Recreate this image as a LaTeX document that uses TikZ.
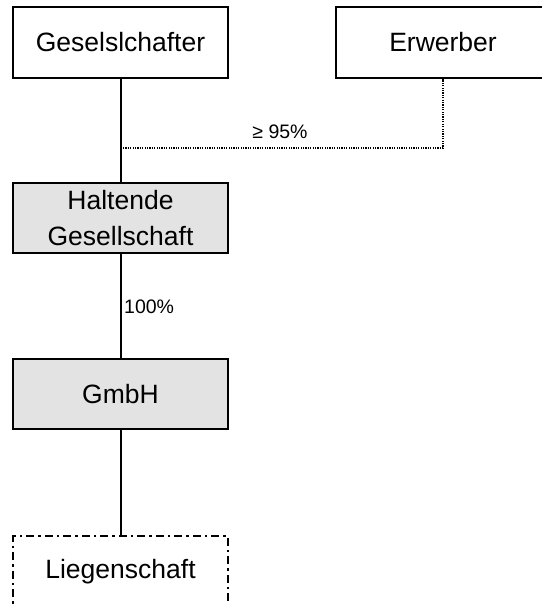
\documentclass[tikz,border=0pt]{standalone}
\usepackage{fontspec}
\setmainfont{Liberation Sans}
\begin{document}
\begin{tikzpicture}[x=1pt,y=-1pt,
  box/.style={draw=black,line width=2pt,minimum width=215pt,minimum height=71pt,inner sep=0pt,font=\fontsize{26.5}{36}\selectfont,align=center},
  grey/.style={box,fill=black!11},
  dashdot/.style={box,draw=black,line width=2.4pt,dash pattern=on 8pt off 4pt on 2.5pt off 4pt},
  conn/.style={line width=2pt},
  dotconn/.style={line width=1.2pt,dash pattern=on 1.2pt off 1.2pt},
  lbl/.style={font=\fontsize{19.5}{23}\selectfont,inner sep=0pt}]
\useasboundingbox (0,0) rectangle (541,604);
\node[box] (ges) at (120.5,42.5) {Geselslchafter};
\node[box] (erw) at (443,42.5) {Erwerber};
\node[grey,minimum height=70pt] (halt) at (120.5,218) {Haltende\\Gesellschaft};
\node[grey,minimum height=70pt] (gmbh) at (120.5,394) {GmbH};
\node[dashdot,minimum height=72pt] (lieg) at (120.5,572) {Liegenschaft};
\coordinate (j) at (ges.south |- 0,148);
\draw[conn] (ges.south) -- (halt.north);
\draw[conn] (halt.south) -- (gmbh.north);
\draw[conn] (gmbh.south) -- (lieg.north);
\draw[dotconn] (j) -| (erw.south);
\node[lbl] (p95) at (280,132) {≥ 95\%};
\node[lbl,anchor=west] (p100) at (124,307) {100\%};
\end{tikzpicture}
\end{document}
